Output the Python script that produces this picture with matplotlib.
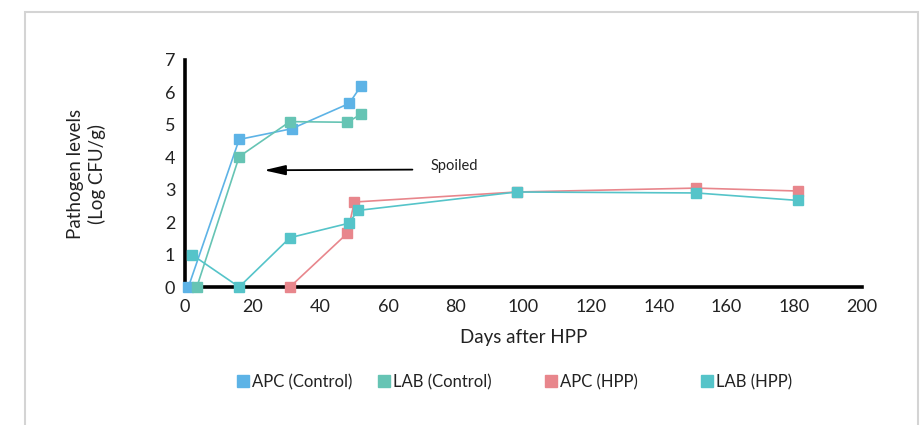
import matplotlib.pyplot as plt
from matplotlib.patches import Rectangle

plt.rcParams['font.family'] = ['Lato', 'DejaVu Sans']

# data
apc_ctrl_days = [1, 16, 31.5, 48.5, 52]
apc_ctrl_vals = [0, 4.55, 4.88, 5.66, 6.2]

lab_ctrl_days = [3.5, 16, 31, 48, 52]
lab_ctrl_vals = [0, 4.02, 5.1, 5.08, 5.33]

apc_hpp_days = [31, 48, 50, 98, 151, 181]
apc_hpp_vals = [0, 1.66, 2.62, 2.93, 3.05, 2.96]

lab_hpp_days = [2, 16, 31, 48.5, 51, 98, 151, 181]
lab_hpp_vals = [1.0, 0, 1.52, 1.97, 2.36, 2.93, 2.9, 2.67]

x_ticks = list(range(0, 201, 20))
y_ticks = list(range(0, 8))

col_apc_ctrl = '#5db3e6'
col_lab_ctrl = '#66c4b4'
col_apc_hpp = '#e8868c'
col_lab_hpp = '#55c4c9'

fig = plt.figure(figsize=(9.22, 4.25), dpi=100)
fig.patches.append(Rectangle((25 / 922, -0.01), (918 - 25) / 922, (425 - 12) / 425 + 0.01,
                             transform=fig.transFigure, fill=False,
                             edgecolor='#d4d4d4', linewidth=1.5))

ax = fig.add_axes([185 / 922, 1 - 287 / 425, (862 - 185) / 922, (287 - 60) / 425])

series = [
    (apc_ctrl_days, apc_ctrl_vals, col_apc_ctrl, 'APC (Control)'),
    (lab_ctrl_days, lab_ctrl_vals, col_lab_ctrl, 'LAB (Control)'),
    (apc_hpp_days, apc_hpp_vals, col_apc_hpp, 'APC (HPP)'),
    (lab_hpp_days, lab_hpp_vals, col_lab_hpp, 'LAB (HPP)'),
]
for days, vals, col, lab in series:
    ax.plot(days, vals, color=col, lw=1.2, marker='s', ms=7.5,
            mec=col, mfc=col, clip_on=False, label=lab, zorder=3)

ax.set_xlim(0, 200)
ax.set_ylim(0, 7)
ax.set_xticks(x_ticks)
ax.set_yticks(y_ticks)
ax.tick_params(length=0, labelsize=13, colors='#222222')
ax.tick_params(axis='x', pad=9)
ax.tick_params(axis='y', pad=7)
for s in ['top', 'right']:
    ax.spines[s].set_visible(False)
for s in ['left', 'bottom']:
    ax.spines[s].set_linewidth(2.6)
    ax.spines[s].set_color('black')
    ax.spines[s].set_zorder(2)

ax.set_xlabel('Days after HPP', fontsize=13.5, color='#222222', labelpad=10)
ax.set_ylabel('Pathogen levels\n(Log CFU/g)', fontsize=13.5, color='#222222',
              labelpad=42, linespacing=1.3)

ax.annotate('', xy=(22.5, 3.6), xytext=(68, 3.62),
            arrowprops=dict(arrowstyle='-|>,head_length=1.3,head_width=0.3',
                            color='black', lw=1.3))
ax.text(72.5, 3.72, 'Spoiled', fontsize=10.5, color='#222222', va='center')

# legend entries are spaced unevenly in the original, so one legend each
leg_x = [236, 377, 544, 700]
for (_, _, c, lab), lx in zip(series, leg_x):
    h = plt.Line2D([], [], ls='none', marker='s', ms=8, mfc=c, mec=c)
    leg = fig.legend([h], [lab], loc='center left',
                     bbox_to_anchor=(lx / 922, 1 - 382 / 425), frameon=False,
                     fontsize=12, handletextpad=0.15, handlelength=0.8,
                     borderpad=0, borderaxespad=0)
    for t in leg.get_texts():
        t.set_color('#222222')

fig.savefig('out.png', dpi=100)
